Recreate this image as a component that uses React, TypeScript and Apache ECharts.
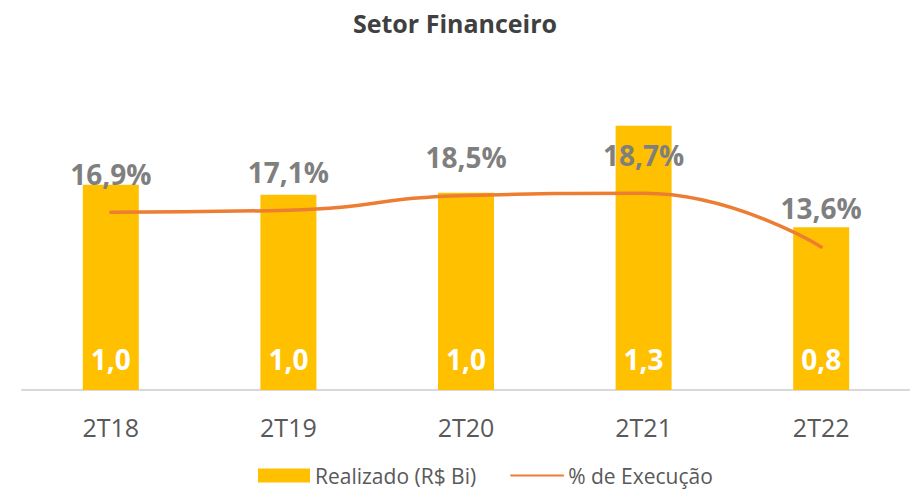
import React, { useEffect, useRef } from "react";
import * as echarts from "echarts";

const categories = ["2T18", "2T19", "2T20", "2T21", "2T22"];
const realizado = [1.01, 0.96, 0.97, 1.3, 0.8];
const execucao = [16.9, 17.1, 18.5, 18.7, 13.6];

const FONT = "'Open Sans', sans-serif";
const fmt = (v: number) => v.toFixed(1).replace(".", ",");

export default function App() {
  const ref = useRef<HTMLDivElement>(null);
  useEffect(() => {
    if (!ref.current) return;
    const chart = echarts.init(ref.current, undefined, { renderer: "svg" });
    chart.setOption({
      animation: false,
      textStyle: { fontFamily: FONT },
      title: {
        text: "Setor Financeiro",
        left: "center",
        top: 5,
        textStyle: { fontFamily: FONT, fontSize: 25, fontWeight: "bold", color: "#404040" },
      },
      legend: {
        top: 460,
        left: 253,
        itemWidth: 52,
        itemHeight: 14,
        itemGap: 34,
        textStyle: { fontFamily: FONT, fontSize: 21, color: "#595959" },
        data: [
          { name: "Realizado (R$ Bi)", icon: "rect" },
          { name: "% de Execução" },
        ],
      },
      grid: { left: 22, right: 0, top: 85, bottom: 99 },
      xAxis: {
        type: "category",
        data: categories,
        axisTick: { show: false },
        axisLine: { lineStyle: { color: "#D9D9D9", width: 2 } },
        axisLabel: { fontFamily: FONT, fontSize: 25, color: "#595959", margin: 24 },
      },
      yAxis: [
        { type: "value", min: 0, max: 1.5, show: false, splitLine: { show: false } },
        { type: "value", min: 0, max: 29, show: false, splitLine: { show: false } },
      ],
      series: [
        {
          name: "Realizado (R$ Bi)",
          type: "bar",
          data: realizado,
          barWidth: 56,
          itemStyle: { color: "#FFC000" },
          label: {
            show: true,
            position: "insideBottom",
            distance: 17,
            formatter: (p: any) => fmt(p.value),
            fontFamily: FONT,
            fontSize: 28,
            fontWeight: "bold",
            color: "#FFFFFF",
          },
        },
        {
          name: "% de Execução",
          type: "line",
          yAxisIndex: 1,
          data: execucao,
          smooth: 0.5,
          symbol: "circle",
          symbolSize: 1,
          lineStyle: { color: "#ED7D31", width: 3.5, cap: "round" },
          itemStyle: { color: "rgba(0,0,0,0)" },
          label: {
            show: true,
            position: "top",
            distance: 24,
            formatter: (p: any) => fmt(p.value) + "%",
            fontFamily: FONT,
            fontSize: 28,
            fontWeight: "bold",
            color: "#7F7F7F",
          },
        },
      ],
    });
    return () => chart.dispose();
  }, []);
  return (
    <div
      ref={ref}
      style={{ position: "absolute", left: 0, top: 0, width: 910, height: 489 }}
    />
  );
}
